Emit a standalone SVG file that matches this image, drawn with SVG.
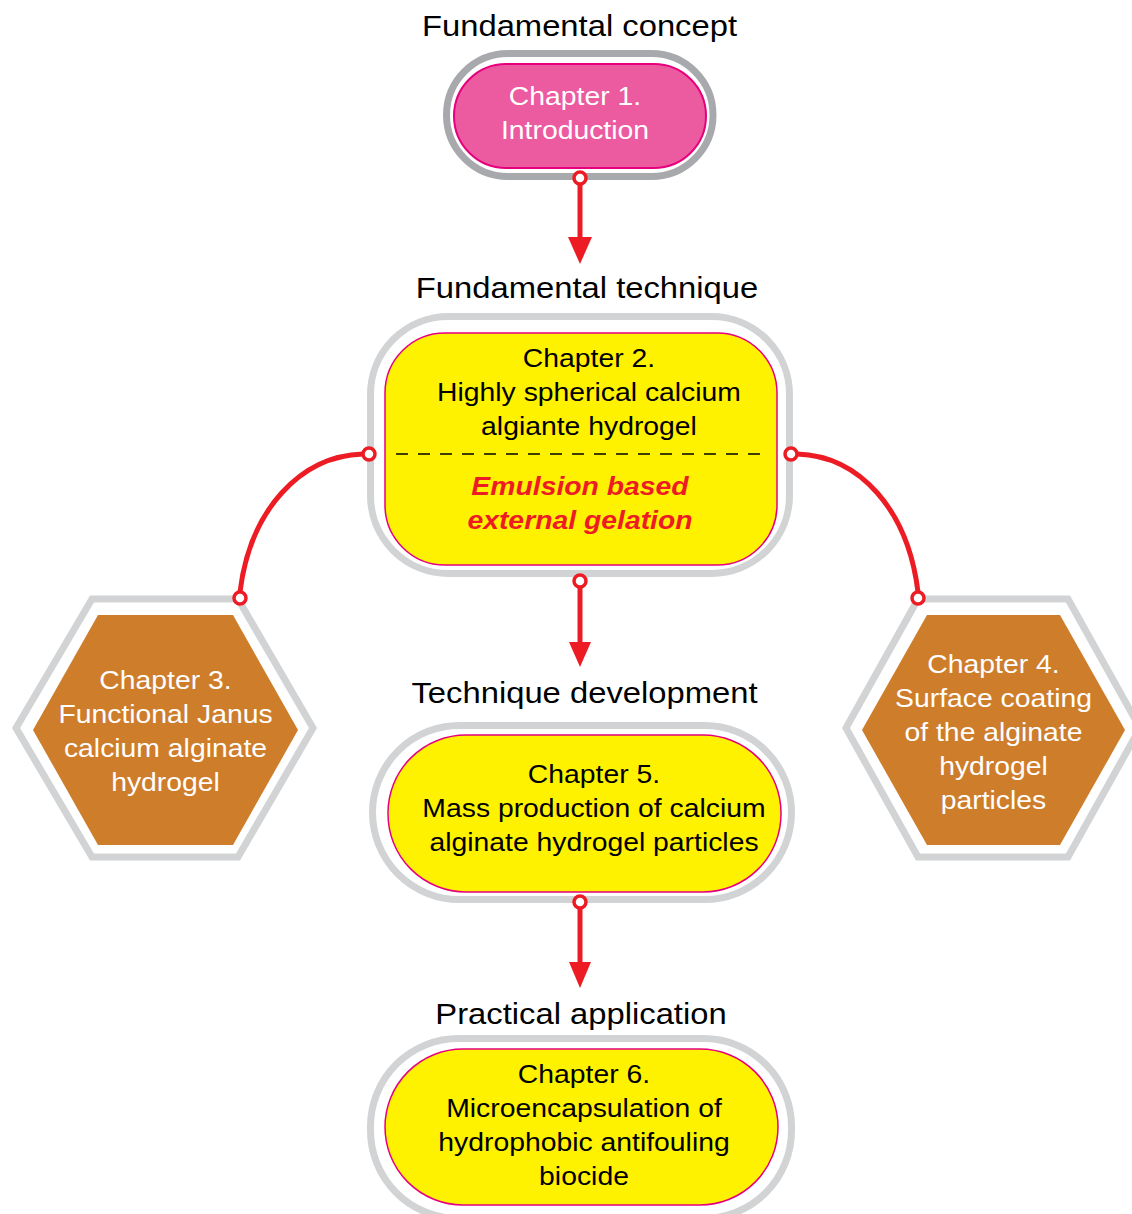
<svg xmlns="http://www.w3.org/2000/svg" width="1132" height="1214" viewBox="0 0 1132 1214">
<style>
.title{font-family:"Liberation Sans",Arial,sans-serif;font-size:29px;fill:#000;text-anchor:middle}
.nt{font-family:"Liberation Sans",Arial,sans-serif;font-size:26px;text-anchor:middle}
.blk{fill:#000}
.wht{fill:#fff}
.red{fill:#ed1c24;font-weight:bold;font-style:italic}
.ring{fill:none;stroke:#d1d3d4;stroke-width:7}
.ring1{fill:none;stroke:#a7a9ac;stroke-width:7}
.yel{fill:#fff200;stroke:#e6007e;stroke-width:1.5}
.pink{fill:#ec5aa0;stroke:#e6007e;stroke-width:2}
.hex{fill:#ce7d2b}
.conn{fill:none;stroke:#ed1c24;stroke-width:5}
.dot{fill:#fff;stroke:#ed1c24;stroke-width:3.5}
.head{fill:#ed1c24}
</style>
<rect width="1132" height="1214" fill="#fff"/>

<g id="titles">
<text class="title" transform="matrix(1.13 0 0 1 579.5 36)">Fundamental concept</text>
<text class="title" transform="matrix(1.13 0 0 1 587 298)">Fundamental technique</text>
<text class="title" transform="matrix(1.13 0 0 1 584.5 703)">Technique development</text>
<text class="title" transform="matrix(1.13 0 0 1 581 1024)">Practical application</text>
</g>

<g id="ch1">
<rect class="ring1" x="446.5" y="53.5" width="266.5" height="123" rx="61.5"/>
<rect class="pink" x="454" y="64" width="252" height="104" rx="52"/>
<text class="nt wht" transform="matrix(1.09 0 0 1 575 105)"><tspan x="0" y="0">Chapter 1.</tspan><tspan x="0" y="34">Introduction</tspan></text>
</g>

<g id="ch2">
<rect class="ring" x="370.5" y="316.5" width="419" height="257" rx="78"/>
<rect class="yel" x="385" y="333" width="392" height="232" rx="60"/>
<line x1="396" y1="454" x2="765" y2="454" stroke="#000" stroke-width="1.5" stroke-dasharray="12 10"/>
<text class="nt blk" transform="matrix(1.09 0 0 1 589 367)"><tspan x="0" y="0">Chapter 2.</tspan><tspan x="0" y="34">Highly spherical calcium</tspan><tspan x="0" y="68">algiante hydrogel</tspan></text>
<text class="nt red" transform="matrix(1.09 0 0 1 580 495)"><tspan x="0" y="0">Emulsion based</tspan><tspan x="0" y="34">external gelation</tspan></text>
</g>

<g id="ch3">
<polygon class="ring" points="16,728 92,599 238,599 313,728 238,857 92,857"/>
<polygon class="hex" points="33,730 98,615 233,615 298,730 233,845 98,845"/>
<text class="nt wht" transform="matrix(1.09 0 0 1 165.5 689)"><tspan x="0" y="0">Chapter 3.</tspan><tspan x="0" y="34">Functional Janus</tspan><tspan x="0" y="68">calcium alginate</tspan><tspan x="0" y="102">hydrogel</tspan></text>
</g>

<g id="ch4">
<polygon class="ring" points="846,728 918,599 1068,599 1140,728 1068,857 918,857"/>
<polygon class="hex" points="862,730 927,615 1060,615 1125,730 1060,845 927,845"/>
<text class="nt wht" transform="matrix(1.09 0 0 1 993.5 673)"><tspan x="0" y="0">Chapter 4.</tspan><tspan x="0" y="34">Surface coating</tspan><tspan x="0" y="68">of the alginate</tspan><tspan x="0" y="102">hydrogel</tspan><tspan x="0" y="136">particles</tspan></text>
</g>

<g id="ch5">
<rect class="ring" x="372.5" y="725.5" width="419" height="174" rx="87"/>
<rect class="yel" x="388" y="735" width="393" height="157" rx="78"/>
<text class="nt blk" transform="matrix(1.09 0 0 1 594 783)"><tspan x="0" y="0">Chapter 5.</tspan><tspan x="0" y="34">Mass production of calcium</tspan><tspan x="0" y="68">alginate hydrogel particles</tspan></text>
</g>

<g id="ch6">
<rect class="ring" x="370.5" y="1038.5" width="421" height="180" rx="88"/>
<rect class="yel" x="385" y="1049" width="393" height="156" rx="78"/>
<text class="nt blk" transform="matrix(1.09 0 0 1 584 1083)"><tspan x="0" y="0">Chapter 6.</tspan><tspan x="0" y="34">Microencapsulation of</tspan><tspan x="0" y="68">hydrophobic antifouling</tspan><tspan x="0" y="102">biocide</tspan></text>
</g>

<g id="connectors">
<line class="conn" x1="580" y1="184" x2="580" y2="240"/>
<polygon class="head" points="568,237 592,237 580,264"/>
<circle class="dot" cx="580" cy="178" r="6"/>

<line class="conn" x1="580" y1="587" x2="580" y2="645"/>
<polygon class="head" points="569,642 591,642 580,667"/>
<circle class="dot" cx="580" cy="581" r="6"/>

<line class="conn" x1="580" y1="908" x2="580" y2="965"/>
<polygon class="head" points="569,962 591,962 580,988"/>
<circle class="dot" cx="580" cy="902" r="6"/>

<path class="conn" d="M363,454 C300,456 250,510 240,592"/>
<circle class="dot" cx="369" cy="454" r="6"/>
<circle class="dot" cx="240" cy="598" r="6"/>

<path class="conn" d="M797,454 C860,456 908,510 918,592"/>
<circle class="dot" cx="791" cy="454" r="6"/>
<circle class="dot" cx="918" cy="598" r="6"/>
</g>
</svg>
